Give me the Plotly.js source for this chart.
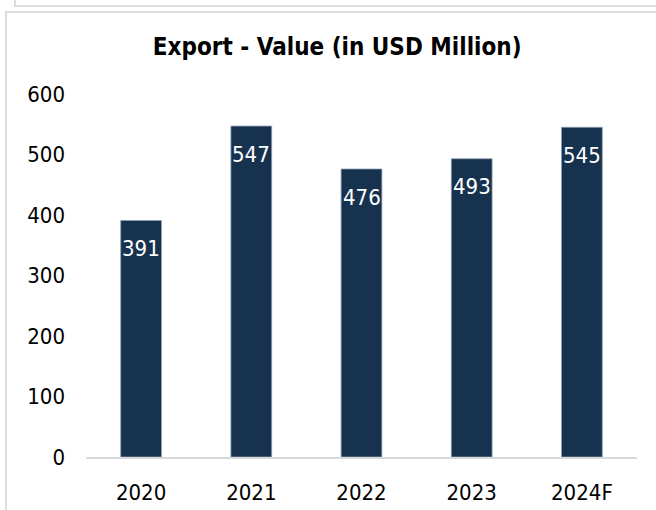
<!DOCTYPE html>
<html>
<head>
<meta charset="utf-8">
<script src="https://cdn.plot.ly/plotly-3.0.1.min.js"></script>
<style>
  html, body { margin: 0; padding: 0; background: #ffffff; }
  #wrap { position: relative; width: 656px; height: 510px; overflow: hidden; background: #fff; }
  #chart { position: absolute; left: 0; top: 0; width: 656px; height: 510px; }
  .frame1 { position: absolute; left: 14px; top: -10px; width: 700px; height: 15px; border-left: 2px solid #dcdcdc; border-bottom: 2px solid #dcdcdc; pointer-events: none; }
  .frame2 { position: absolute; left: 5px; top: 11px; width: 700px; height: 600px; border-left: 2px solid #dcdcdc; border-top: 2px solid #dcdcdc; pointer-events: none; }
</style>
</head>
<body>
<div id="wrap">
  <div id="chart"></div>
  <div class="frame1"></div>
  <div class="frame2"></div>
</div>
<script>
const categories = ["2020", "2021", "2022", "2023", "2024F"];
const exportValues = [391, 547, 476, 493, 545];
const valueLabels = ["391", "547", "476", "493", "545"];
const yTickValues = [0, 100, 200, 300, 400, 500, 600];
const yTickLabels = ["0", "100", "200", "300", "400", "500", "600"];

const FONT = "'DejaVu Sans Condensed', Tahoma, 'DejaVu Sans', sans-serif";

const trace = {
  type: "bar",
  x: categories,
  y: exportValues,
  marker: { color: "#17324f", line: { color: "#8fa0b5", width: 0.8 } },
  hoverinfo: "skip"
};

// annotation x uses the category index on the category axis
const annotations = categories.map((c, i) => ({
  x: i,
  y: exportValues[i],
  xref: "x",
  yref: "y",
  text: valueLabels[i],
  showarrow: false,
  yanchor: "middle",
  xanchor: "center",
  yshift: -28,
  font: { family: FONT, size: 22, color: "#ffffff" }
}));

const layout = {
  width: 656,
  height: 510,
  margin: { l: 86, r: 19, t: 94, b: 53 },
  paper_bgcolor: "rgba(0,0,0,0)",
  plot_bgcolor: "#ffffff",
  showlegend: false,
  bargap: 0.63,
  title: {
    text: "<b>Export - Value (in USD Million)</b>",
    font: { family: FONT, size: 24, color: "#000000" },
    xref: "container",
    yref: "container",
    x: 0.514,
    y: 1 - 47 / 510,
    xanchor: "center",
    yanchor: "middle"
  },
  xaxis: {
    type: "category",
    categoryorder: "array",
    categoryarray: categories,
    range: [-0.5, categories.length - 0.5],
    autorange: false,
    showline: true,
    linecolor: "#d9d9d9",
    linewidth: 1.5,
    showgrid: false,
    zeroline: false,
    ticks: "",
    tickangle: 0,
    ticklabelstandoff: 15,
    tickfont: { family: FONT, size: 22, color: "#000000" }
  },
  yaxis: {
    range: [0, 600],
    autorange: false,
    tickvals: yTickValues,
    ticktext: yTickLabels,
    showgrid: false,
    zeroline: false,
    showline: false,
    ticks: "",
    ticklabelstandoff: 20,
    tickfont: { family: FONT, size: 22, color: "#000000" }
  },
  annotations: annotations
};

Plotly.newPlot("chart", [trace], layout, { displayModeBar: false, staticPlot: true });
</script>
</body>
</html>
